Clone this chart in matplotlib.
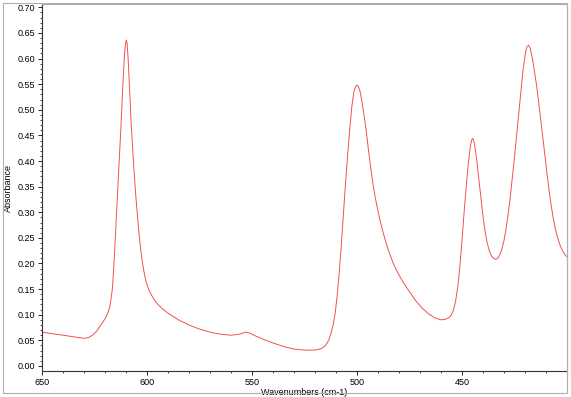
import matplotlib
matplotlib.use("Agg")
import matplotlib.pyplot as plt
from matplotlib.ticker import MultipleLocator, FormatStrFormatter
from matplotlib.patches import Rectangle

# Spectrum (wavenumber, absorbance)
wavenumber = [650, 645, 640, 635, 630, 628, 626, 624, 622, 620,
              618.5, 617.5, 616.5, 615.5, 614.5, 613.5, 612.5, 611.5, 610.7, 610.2,
              609.9, 609.5, 609.0, 608.3, 607.5, 606.5, 605.5, 604.5, 603.5, 602.5,
              601.5, 600.5, 599.0, 597.0, 595.0, 592.5, 590, 585, 580, 575,
              570, 565, 560, 556, 553, 551, 548, 544, 540, 535,
              530, 525, 520, 517, 515, 513.5, 512.5, 511.5, 510.5, 509.5,
              508.5, 507.5, 506.5, 505.5, 504.5, 503.5, 502.5, 501.5, 500.5, 500,
              499.3, 498.5, 497.5, 496.5, 495.5, 494.5, 493.5, 492.5, 491.5, 490.5,
              489, 487, 485, 483, 481, 478, 475, 472, 469, 466,
              463, 460, 458, 456, 455, 454, 453, 452, 451, 450,
              449, 448, 447, 446, 445.3, 445, 444.6, 444, 443, 442,
              441, 440, 439, 438, 437, 436, 435, 434, 433, 432,
              431, 430, 429, 428, 427, 426, 425, 424, 423, 422,
              421, 420, 419.2, 418.3, 417.5, 416.5, 415.5, 414.5, 413.5, 412.5,
              411.5, 410.5, 409.5, 408.5, 407.5, 406.5, 405.5, 404.5, 403.5, 402.5,
              401.5, 400.5, 399.9]
absorbance = [0.066, 0.063, 0.060, 0.057, 0.054, 0.055, 0.060, 0.068, 0.080, 0.092,
              0.105, 0.120, 0.150, 0.215, 0.300, 0.380, 0.460, 0.550, 0.610, 0.630,
              0.636, 0.630, 0.600, 0.540, 0.470, 0.400, 0.340, 0.290, 0.245, 0.210,
              0.185, 0.165, 0.147, 0.132, 0.121, 0.111, 0.103, 0.090, 0.080, 0.072,
              0.066, 0.062, 0.060, 0.062, 0.066, 0.064, 0.058, 0.051, 0.045, 0.038,
              0.033, 0.031, 0.031, 0.034, 0.040, 0.050, 0.062, 0.078, 0.100, 0.135,
              0.180, 0.235, 0.295, 0.355, 0.410, 0.460, 0.505, 0.535, 0.547, 0.548,
              0.545, 0.535, 0.512, 0.485, 0.455, 0.420, 0.388, 0.358, 0.333, 0.312,
              0.283, 0.252, 0.225, 0.203, 0.185, 0.163, 0.145, 0.127, 0.113, 0.102,
              0.094, 0.090, 0.091, 0.095, 0.100, 0.110, 0.128, 0.155, 0.195, 0.245,
              0.300, 0.350, 0.395, 0.430, 0.442, 0.444, 0.442, 0.432, 0.402, 0.365,
              0.328, 0.292, 0.262, 0.240, 0.225, 0.215, 0.210, 0.208, 0.210, 0.217,
              0.228, 0.245, 0.268, 0.297, 0.330, 0.368, 0.408, 0.450, 0.492, 0.535,
              0.575, 0.605, 0.622, 0.626, 0.620, 0.600, 0.575, 0.548, 0.515, 0.480,
              0.445, 0.410, 0.375, 0.342, 0.312, 0.287, 0.267, 0.251, 0.238, 0.228,
              0.220, 0.215, 0.213]

plt.rcParams['font.family'] = ['Liberation Sans', 'DejaVu Sans']

fig = plt.figure(figsize=(5.71, 3.97), dpi=100)
ax = fig.add_axes([0.0736, 0.0655, 0.9194, 0.9244])

ax.plot(wavenumber, absorbance, color='#f05050', linewidth=0.7)

ax.set_xlim(650, 400)
ax.set_ylim(-0.0098, 0.7064)
ax.set_xticks([650, 600, 550, 500, 450])
ax.xaxis.set_minor_locator(MultipleLocator(10))
ax.yaxis.set_major_locator(MultipleLocator(0.05))
ax.yaxis.set_minor_locator(MultipleLocator(0.01))
ax.yaxis.set_major_formatter(FormatStrFormatter('%.2f'))
ax.tick_params(which='major', length=3, width=0.6, labelsize=6.5, pad=2)
ax.tick_params(which='minor', length=1.5, width=0.5)

for side in ['left', 'bottom']:
    ax.spines[side].set_color('#333333')
    ax.spines[side].set_linewidth(0.8)
for side in ['top', 'right']:
    ax.spines[side].set_color('#aaaaaa')
    ax.spines[side].set_linewidth(0.8)

ax.set_xlabel('Wavenumbers (cm-1)', fontsize=6.5, labelpad=1)
ax.set_ylabel('Absorbance', fontsize=6.5, labelpad=3)

# outer grey frame
fig.patches.append(Rectangle((0.00525, 0.0101), 0.98775, 0.9823,
                             transform=fig.transFigure, fill=False,
                             edgecolor='#b0b0b0', linewidth=0.8))

fig.savefig('out.png', dpi=100)
